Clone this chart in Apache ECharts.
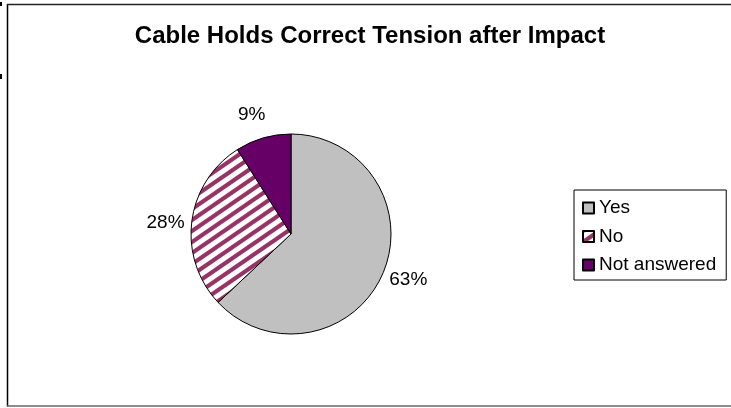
<!DOCTYPE html>
<html>
<head>
<meta charset="utf-8">
<script src="https://cdn.jsdelivr.net/npm/echarts@6/dist/echarts.min.js"></script>
<style>
html,body{margin:0;padding:0;background:#fff;}
#chart{width:731px;height:408px;}
</style>
</head>
<body>
<div id="chart"></div>
<script>
var titleText = 'Cable Holds Correct Tension after Impact';
var categories = ['Yes', 'No', 'Not answered'];
var percents = [63, 28, 9];

// striped pattern for "No"
function makeStripes() {
  var W = 16, H = 11;
  var c = document.createElement('canvas');
  c.width = W; c.height = H;
  var g = c.getContext('2d');
  g.fillStyle = '#ffffff';
  g.fillRect(0, 0, W, H);
  g.strokeStyle = '#993366';
  g.lineWidth = 4.2;
  for (var n = -3; n <= 3; n++) {
    g.beginPath();
    g.moveTo(-W, H + H + n * H);
    g.lineTo(2 * W, H - H * 2 + n * H);
    g.stroke();
  }
  return c;
}
var stripe = { image: makeStripes(), repeat: 'repeat' };
var colors = ['#C0C0C0', stripe, '#660066'];

var FONT = '"Liberation Sans", Arial, sans-serif';
var chart = echarts.init(document.getElementById('chart'), null, { renderer: 'canvas' });

var pieData = categories.map(function (n, i) {
  return { name: n, value: percents[i], itemStyle: { color: colors[i] } };
});
var labelData = categories.map(function (n, i) {
  return { name: n, value: percents[i] };
});

chart.setOption({
  animation: false,
  backgroundColor: '#ffffff',
  title: {
    text: titleText,
    left: 365,
    textAlign: 'center',
    top: 19,
    textStyle: { fontFamily: FONT, fontSize: 24, fontWeight: 'bold', color: '#000' }
  },
  legend: {
    orient: 'vertical',
    left: 574,
    top: 190,
    data: categories,
    icon: 'rect',
    itemWidth: 11,
    itemHeight: 11,
    itemGap: 8.5,
    padding: [8, 10, 5, 8],
    borderColor: '#000',
    borderWidth: 1,
    textStyle: { fontFamily: FONT, fontSize: 19, color: '#000', lineHeight: 20 },
    selectedMode: false
  },
  series: [
    {
      type: 'pie',
      name: 'Response',
      center: [291, 234],
      radius: 100,
      startAngle: 90,
      clockwise: true,
      data: pieData,
      itemStyle: { borderColor: '#000', borderWidth: 1 },
      label: { show: false },
      labelLine: { show: false },
      emphasis: { disabled: true },
      silent: true
    },
    {
      type: 'pie',
      name: 'labels',
      center: [291, 234],
      radius: [103, 143],
      startAngle: 92,
      clockwise: true,
      data: labelData,
      itemStyle: { color: 'rgba(0,0,0,0)', borderWidth: 0 },
      label: {
        show: true,
        position: 'inside',
        formatter: '{c}%',
        fontFamily: FONT,
        fontSize: 19,
        color: '#000'
      },
      labelLine: { show: false },
      emphasis: { disabled: true },
      legendHoverLink: false,
      silent: true
    }
  ],
  graphic: [
    { type: 'line', shape: { x1: 7.5, y1: 4, x2: 7.5, y2: 406.5 }, style: { stroke: '#000', lineWidth: 1.5 }, silent: true },
    { type: 'line', shape: { x1: 7, y1: 4.5, x2: 740, y2: 4.5 }, style: { stroke: '#222', lineWidth: 1.5 }, silent: true },
    { type: 'line', shape: { x1: 7, y1: 406, x2: 740, y2: 406 }, style: { stroke: '#666', lineWidth: 1.5 }, silent: true },
    { type: 'rect', shape: { x: 0, y: 2, width: 2, height: 4 }, style: { fill: '#000' }, silent: true },
    { type: 'rect', shape: { x: 0, y: 74, width: 2, height: 5 }, style: { fill: '#000' }, silent: true }
  ]
});
</script>
</body>
</html>
